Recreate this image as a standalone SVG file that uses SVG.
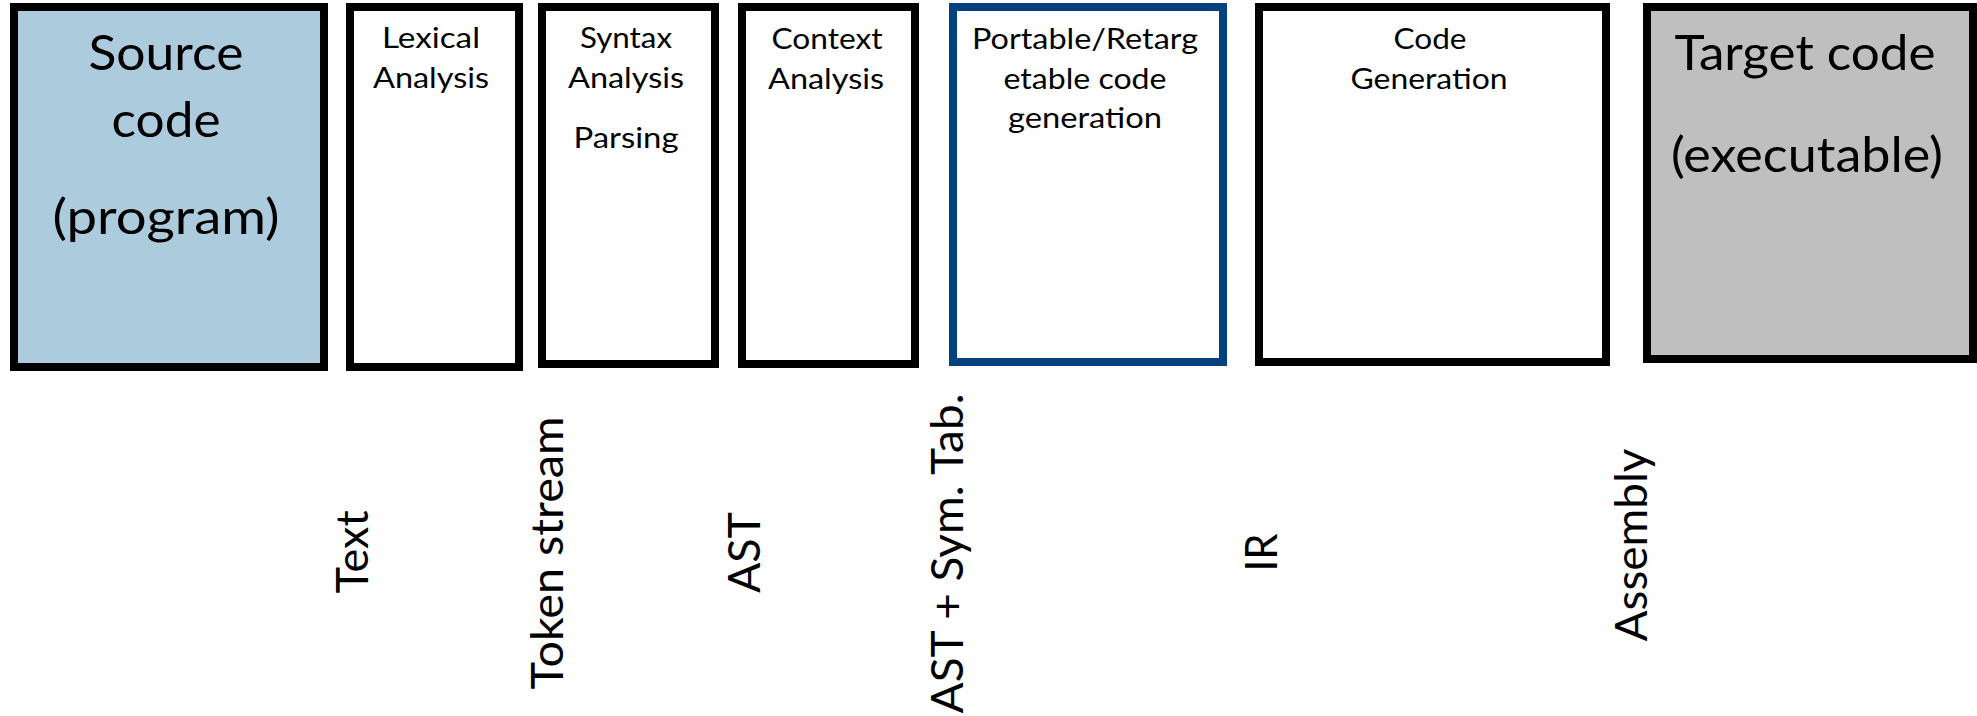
<svg xmlns="http://www.w3.org/2000/svg" width="1977" height="716" viewBox="0 0 1977 716">
  <style>
    .box { stroke: #000000; stroke-width: 8; fill: #FFFFFF; }
    .blue { stroke: #03417F; }
    .src { fill: #ACCCDE; }
    .tgt { fill: #BFBFBF; }
    text { font-family: Lato, "Open Sans", "Liberation Sans", sans-serif; fill: #000000; text-anchor: middle; }
    .big { font-size: 48px; }
    .lbl { font-size: 29px; }
    .vert { font-size: 45px; }
  </style>
  <rect width="1977" height="716" fill="#FFFFFF"/>

  <g id="source-code">
    <rect class="box src" x="14" y="7" width="310" height="360"/>
    <text class="big" x="166" y="70" textLength="155" lengthAdjust="spacingAndGlyphs">Source</text>
    <text class="big" x="166" y="137" textLength="109" lengthAdjust="spacingAndGlyphs">code</text>
    <text class="big" x="166" y="234" textLength="227" lengthAdjust="spacingAndGlyphs">(program)</text>
  </g>

  <g id="lexical-analysis">
    <rect class="box" x="350" y="7" width="169" height="360"/>
    <text class="lbl" x="431" y="48" textLength="98" lengthAdjust="spacingAndGlyphs">Lexical</text>
    <text class="lbl" x="431" y="88" textLength="116" lengthAdjust="spacingAndGlyphs">Analysis</text>
  </g>

  <g id="syntax-analysis">
    <rect class="box" x="542" y="7" width="173" height="357"/>
    <text class="lbl" x="626" y="48" textLength="92" lengthAdjust="spacingAndGlyphs">Syntax</text>
    <text class="lbl" x="626" y="88" textLength="116" lengthAdjust="spacingAndGlyphs">Analysis</text>
    <text class="lbl" x="626" y="148" textLength="105" lengthAdjust="spacingAndGlyphs">Parsing</text>
  </g>

  <g id="context-analysis">
    <rect class="box" x="742" y="7" width="173" height="357"/>
    <text class="lbl" x="827" y="49" textLength="111" lengthAdjust="spacingAndGlyphs">Context</text>
    <text class="lbl" x="826" y="89" textLength="116" lengthAdjust="spacingAndGlyphs">Analysis</text>
  </g>

  <g id="portable-codegen">
    <rect class="box blue" x="953" y="7" width="270" height="355"/>
    <text class="lbl" x="1085" y="49" textLength="226" lengthAdjust="spacingAndGlyphs">Portable/Retarg</text>
    <text class="lbl" x="1085" y="89" textLength="163" lengthAdjust="spacingAndGlyphs">etable code</text>
    <text class="lbl" x="1085" y="128" textLength="154" lengthAdjust="spacingAndGlyphs">generation</text>
  </g>

  <g id="code-generation">
    <rect class="box" x="1259" y="7" width="347" height="355"/>
    <text class="lbl" x="1430" y="49" textLength="73" lengthAdjust="spacingAndGlyphs">Code</text>
    <text class="lbl" x="1429" y="89" textLength="157" lengthAdjust="spacingAndGlyphs">Generation</text>
  </g>

  <g id="target-code">
    <rect class="box tgt" x="1647" y="7" width="326" height="352"/>
    <text class="big" x="1805" y="70" textLength="261" lengthAdjust="spacingAndGlyphs">Target code</text>
    <text class="big" x="1807" y="172" textLength="272" lengthAdjust="spacingAndGlyphs">(executable)</text>
  </g>

  <g id="connectors">
    <text class="vert" transform="translate(368,552) rotate(-90)" textLength="83" lengthAdjust="spacingAndGlyphs">Text</text>
    <text class="vert" transform="translate(563,553) rotate(-90)" textLength="273" lengthAdjust="spacingAndGlyphs">Token stream</text>
    <text class="vert" transform="translate(760,552.5) rotate(-90)" textLength="81" lengthAdjust="spacingAndGlyphs">AST</text>
    <text class="vert" transform="translate(963,553.5) rotate(-90)" textLength="320" lengthAdjust="spacingAndGlyphs">AST + Sym. Tab.</text>
    <text class="vert" transform="translate(1277,552.5) rotate(-90)" textLength="38" lengthAdjust="spacingAndGlyphs">IR</text>
    <text class="vert" transform="translate(1647,545) rotate(-90)" textLength="193" lengthAdjust="spacingAndGlyphs">Assembly</text>
  </g>
</svg>
